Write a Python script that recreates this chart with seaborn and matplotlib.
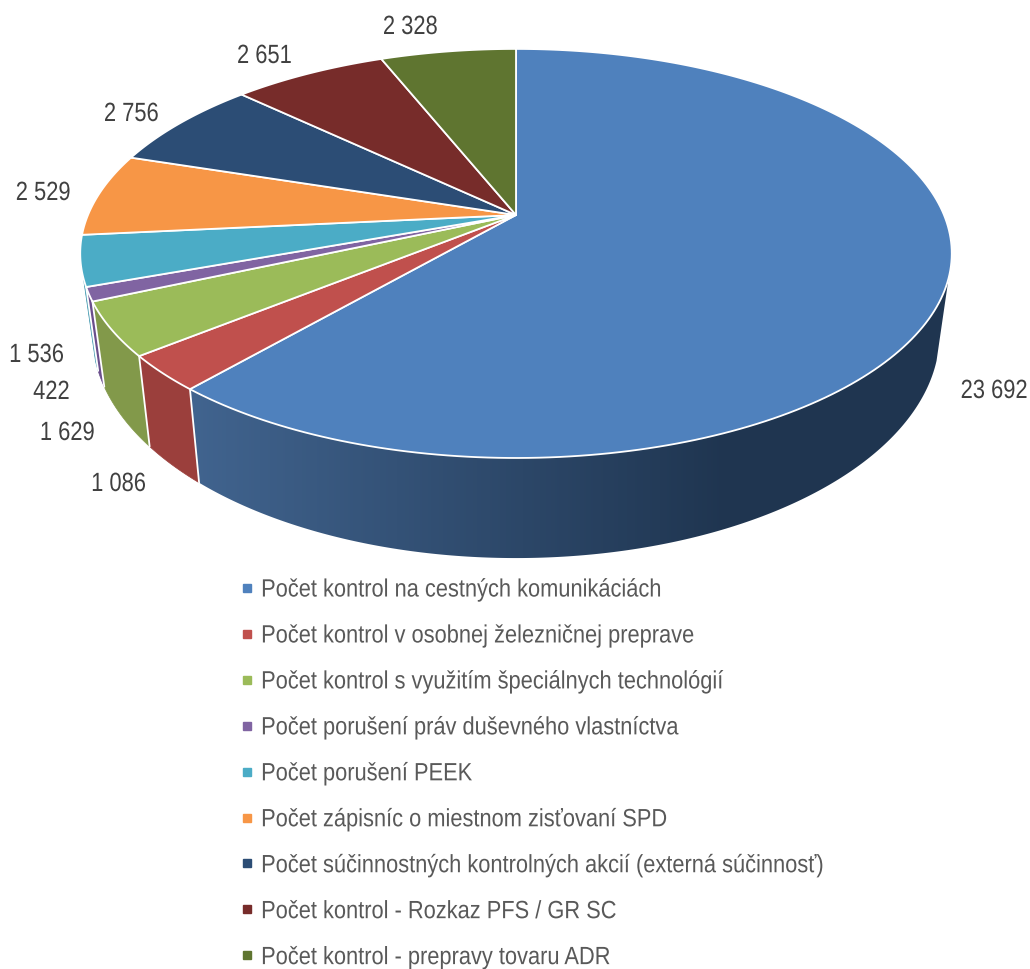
import numpy as np
import matplotlib
matplotlib.use("Agg")
import matplotlib.pyplot as plt
from matplotlib.colors import LinearSegmentedColormap
from matplotlib.lines import Line2D
from matplotlib.patches import Polygon
from matplotlib.patheffects import AbstractPathEffect
from matplotlib.transforms import Affine2D
import seaborn as sns

categories = [
    "Počet kontrol na cestných komunikáciách",
    "Počet kontrol v osobnej železničnej preprave",
    "Počet kontrol s využitím špeciálnych technológií",
    "Počet porušení práv duševného vlastníctva",
    "Počet porušení PEEK",
    "Počet zápisníc o miestnom zisťovaní SPD",
    "Počet súčinnostných kontrolných akcií (externá súčinnosť)",
    "Počet kontrol - Rozkaz PFS / GR SC",
    "Počet kontrol - prepravy tovaru ADR",
]
values = [23692, 1086, 1629, 422, 1536, 2529, 2756, 2651, 2328]
top_colors = ["#4F81BD", "#C0504D", "#9BBB59", "#8064A2", "#4BACC6",
              "#F79646", "#2C4D75", "#772C2A", "#5F7530"]
wall_colors = ["#41648F", "#9B3F3C", "#82994A", "#6A4E8C", "#3F97AE",
               "#D07A30", "#24405F", "#5E2322", "#4C5E26"]

# right end of each value label and its height, in pixels
label_xy = [(1028, 391), (146, 484), (95, 433), (70, 392), (64, 355),
            (71, 193), (159, 114), (292, 56), (438, 27)]

# perspective of the top disc, fitted to the picture
CX, CY = 516, 215
A, B, D = 197.3, 0.188, 428
# the wall is only seen between these two angles, clockwise from the top
WALL_FROM, WALL_TO = np.radians(107.5), np.radians(252.5)
TEXT = "#404040"


class Squeeze(AbstractPathEffect):
    # no narrow font is installed, so squeeze the glyphs sideways
    def __init__(self, sx, anchor):
        super().__init__()
        self.sx = sx
        self.anchor = anchor

    def draw_path(self, renderer, gc, tpath, affine, rgbFace=None):
        box = tpath.get_extents(affine)
        x0 = box.x0 if self.anchor == "left" else box.x1
        squeezed = affine + Affine2D().translate(-x0, 0).scale(self.sx, 1).translate(x0, 0)
        renderer.draw_path(gc, tpath, squeezed, rgbFace)


def top_rim(theta):
    u, v = np.sin(theta), np.cos(theta)
    w = 1 + B * v
    return D * u / w, A * v / w


def low_rim(theta):
    x, y = top_rim(theta)
    return x * 0.972, y * 1.095 - 77


def to_px(x, y):
    return CX + x, CY - y


sns.set_theme(style="white")
plt.rcParams["font.family"] = ["Liberation Sans", "DejaVu Sans"]
palette = sns.color_palette(top_colors)

fig = plt.figure(figsize=(10.3, 9.69), dpi=100)
ax = fig.add_axes([0, 0, 1, 1])
ax.axis("off")

edges = np.radians(np.concatenate([[0], np.cumsum(values)]) / np.sum(values) * 360)

# side wall, one piece per slice
for i in range(len(values)):
    start, stop = max(edges[i], WALL_FROM), min(edges[i + 1], WALL_TO)
    if start >= stop:
        continue
    th = np.linspace(start, stop, 200)
    xt, yt = to_px(*top_rim(th))
    xl, yl = to_px(*low_rim(th))
    pts = np.c_[np.r_[xt, xl[::-1]], np.r_[yt, yl[::-1]]]
    if i == 0:
        # the big slice darkens to the right
        cmap = LinearSegmentedColormap.from_list("wall", [wall_colors[0], "#1F3550"])
        grad = np.clip((np.linspace(0, 1030, 1030) - 190) / 540, 0, 1)[None, :]
        img = ax.imshow(grad, cmap=cmap, extent=(0, 1030, 969, 0), aspect="auto", zorder=1, vmin=0, vmax=1)
        clip = Polygon(pts, transform=ax.transData, facecolor="none", edgecolor="none")
        ax.add_patch(clip)
        img.set_clip_path(clip)
    else:
        ax.fill(pts[:, 0], pts[:, 1], facecolor=wall_colors[i], edgecolor=wall_colors[i], lw=0.5, zorder=1)

# white seams on the front of the wall
for e in edges[1:-1]:
    if WALL_FROM < e < WALL_TO:
        x0, y0 = to_px(*top_rim(e))
        x1, y1 = to_px(*low_rim(e))
        ax.plot([x0, x1], [y0, y1], color="white", lw=1.3, zorder=2)

# top disc
for i in range(len(values)):
    th = np.linspace(edges[i], edges[i + 1], 200)
    xs, ys = to_px(*top_rim(th))
    ax.fill(np.r_[CX, xs], np.r_[CY, ys], facecolor=palette[i], edgecolor="white", lw=1.3, joinstyle="round", zorder=3)

ax.set_xlim(0, 1030)
ax.set_ylim(969, 0)

for val, (lx, ly) in zip(values, label_xy):
    ax.text(lx, ly, f"{val:,}".replace(",", " "), ha="right", va="center", fontsize=19, color=TEXT,
            path_effects=[Squeeze(0.83, "right")], zorder=4)

handles = [Line2D([], [], ls="", marker="s", ms=6, color=c) for c in palette]
leg = ax.legend(handles, categories, loc="upper left", bbox_to_anchor=(0.2251, 0.404), frameon=False,
                fontsize=18, labelcolor="#595959", labelspacing=0.878, handletextpad=-0.04,
                handlelength=1.2, borderpad=0, borderaxespad=0)
for t in leg.get_texts():
    t.set_path_effects([Squeeze(0.873, "left")])

fig.savefig("out.png", dpi=100, facecolor="white")
